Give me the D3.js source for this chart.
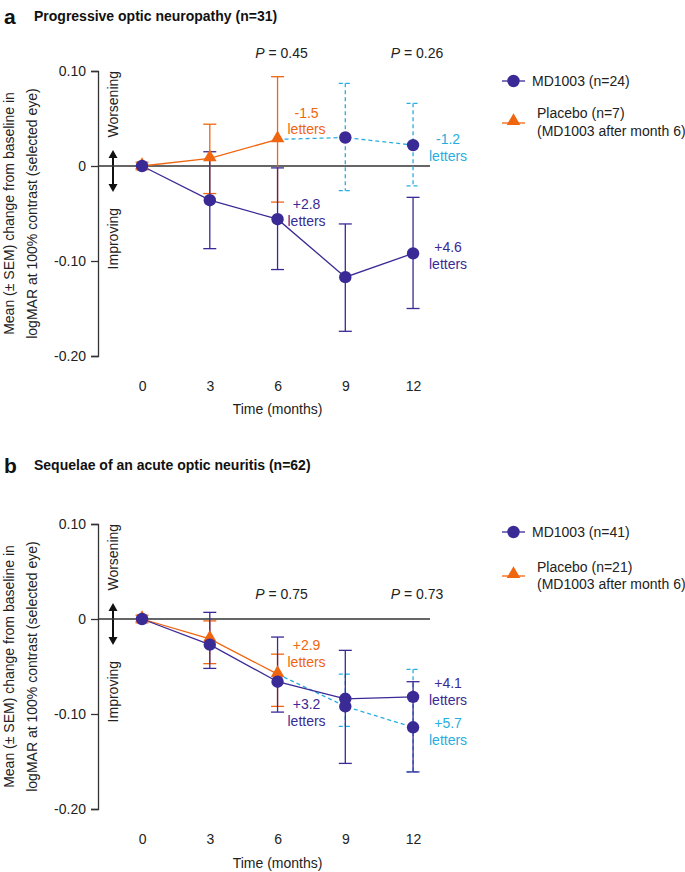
<!DOCTYPE html>
<html><head><meta charset="utf-8">
<script src="https://cdn.jsdelivr.net/npm/d3@7/dist/d3.min.js"></script>
<style>
body{margin:0;background:#fff;}
svg text{font-family:"Liberation Sans",Arial,sans-serif;}
</style></head>
<body><svg id="chart" width="685" height="872"></svg>
<script>
// ---------- data ----------
const months = [0, 3, 6, 9, 12];
const placeboMonths = [0, 3, 6];
const switchMonths = [9, 12];
const yTicks = [0.10, 0, -0.10, -0.20];
const yTickLabels = ["0.10", "0", "-0.10", "-0.20"];

// Panel a: Progressive optic neuropathy
const aMdMean = [0, -0.036, -0.056, -0.117, -0.092];
const aMdHi   = [0, 0.015, -0.002, -0.061, -0.033];
const aMdLo   = [0, -0.087, -0.109, -0.174, -0.150];
const aPlMean = [0, 0.008, 0.028];
const aPlHi   = [0.004, 0.044, 0.094];
const aPlLo   = [-0.004, -0.029, -0.038];
const aSwMean = [0.030, 0.022];
const aSwHi   = [0.087, 0.066];
const aSwLo   = [-0.026, -0.021];
const aPvals  = ["0.45", "0.26"];
const aLetters = ["-1.5", "+2.8", "-1.2", "+4.6"];

// Panel b: Sequelae of an acute optic neuritis
const bMdMean = [0, -0.027, -0.066, -0.084, -0.082];
const bMdHi   = [0, 0.007, -0.019, -0.033, -0.066];
const bMdLo   = [0, -0.052, -0.098, -0.152, -0.161];
const bPlMean = [0, -0.021, -0.058];
const bPlHi   = [0.004, -0.002, -0.037];
const bPlLo   = [-0.004, -0.047, -0.092];
const bSwMean = [-0.092, -0.114];
const bSwHi   = [-0.058, -0.053];
const bSwLo   = [-0.113, -0.161];
const bPvals  = ["0.75", "0.73"];
const bLetters = ["+2.9", "+3.2", "+4.1", "+5.7"];

const panels = [
  {letter: "a", title: "Progressive optic neuropathy (n=31)", mdN: "MD1003 (n=24)", plN: "Placebo (n=7)",
   md: [aMdMean, aMdHi, aMdLo], pl: [aPlMean, aPlHi, aPlLo], sw: [aSwMean, aSwHi, aSwLo],
   pv: aPvals, lt: aLetters},
  {letter: "b", title: "Sequelae of an acute optic neuritis (n=62)", mdN: "MD1003 (n=41)", plN: "Placebo (n=21)",
   md: [bMdMean, bMdHi, bMdLo], pl: [bPlMean, bPlHi, bPlLo], sw: [bSwMean, bSwHi, bSwLo],
   pv: bPvals, lt: bLetters}
];

// ---------- layout ----------
const PURPLE = "#3a2a95", ORANGE = "#f0650f", CYAN = "#27aee0", AX = "#333";
const layouts = [
  {titleY: 16, yTop: 71, yBot: 356, tickY: 386, xlabY: 409, pvY: 0.119,
   legMd: 81, legPl: 123, legT1: 113, legT2: 131,
   notes: [[6, 0.0558, ORANGE], [6, -0.040, PURPLE], [12, 0.0284, CYAN], [12, -0.0853, PURPLE]]},
  {titleY: 465, yTop: 524, yBot: 809, tickY: 839, xlabY: 863, pvY: 0.026,
   legMd: 532, legPl: 576, legT1: 567, legT2: 584,
   notes: [[6, -0.0274, ORANGE], [6, -0.0895, PURPLE], [12, -0.0674, PURPLE], [12, -0.1095, CYAN]]}
];

const svg = d3.select("#chart");
const x = d3.scaleLinear().domain([-1.95, 12.75]).range([98, 430]);
const cap = 6.5;
const tri = d3.symbol().type(d3.symbolTriangle).size(80)();

panels.forEach((p, i) => {
  const L = layouts[i];
  const y = d3.scaleLinear().domain([-0.20, 0.10]).range([L.yBot, L.yTop]);
  const g = svg.append("g");

  // titles
  g.append("text").attr("x", 4).attr("y", L.titleY).attr("dominant-baseline", "central")
    .attr("font-size", 21).attr("font-weight", "bold").attr("fill", "#111").text(p.letter);
  g.append("text").attr("x", 34).attr("y", L.titleY).attr("dominant-baseline", "central")
    .attr("font-size", 14).attr("font-weight", "bold").attr("fill", "#111").text(p.title);

  // y axis
  const yAxis = d3.axisLeft(y).tickValues(yTicks).tickSize(7).tickPadding(5)
    .tickFormat((d, k) => yTickLabels[k]);
  const ya = g.append("g").attr("transform", `translate(${x(-1.95)},0)`).call(yAxis);
  ya.select(".domain").attr("stroke", AX).attr("stroke-width", 1.3);
  ya.selectAll(".tick line").attr("stroke", AX).attr("stroke-width", 1.3);
  ya.selectAll(".tick text").attr("font-size", 14).attr("fill", "#222")
    .attr("font-family", "Liberation Sans, Arial, sans-serif");

  // x tick labels (no axis line)
  const xAxis = d3.axisBottom(x).tickValues(months).tickSize(0).tickPadding(0).tickFormat(d3.format("d"));
  const xa = g.append("g").attr("transform", `translate(0,${L.tickY})`).call(xAxis);
  xa.select(".domain").remove();
  xa.selectAll(".tick text").attr("font-size", 14).attr("fill", "#222").attr("dy", null)
    .attr("dominant-baseline", "central").attr("font-family", "Liberation Sans, Arial, sans-serif");
  g.append("text").attr("x", x(6)).attr("y", L.xlabY).attr("text-anchor", "middle")
    .attr("dominant-baseline", "central").attr("font-size", 14).attr("fill", "#222").text("Time (months)");

  // y label
  const yc = (L.yTop + L.yBot) / 2;
  [["Mean (± SEM) change from baseline in", 9], ["logMAR at 100% contrast (selected eye)", 32]].forEach(([t, xx]) => {
    g.append("text").attr("transform", `translate(${xx},${yc}) rotate(-90)`).attr("text-anchor", "middle")
      .attr("dominant-baseline", "central").attr("font-size", 14).attr("fill", "#222").text(t);
  });

  // worsening / improving
  const xw = 113;
  g.append("text").attr("transform", `translate(${xw},${(y(0.10) + y(0.03)) / 2}) rotate(-90)`)
    .attr("text-anchor", "middle").attr("dominant-baseline", "central").attr("font-size", 14).attr("fill", "#222").text("Worsening");
  g.append("text").attr("transform", `translate(${xw},${(y(-0.045) + y(-0.108)) / 2}) rotate(-90)`)
    .attr("text-anchor", "middle").attr("dominant-baseline", "central").attr("font-size", 14).attr("fill", "#222").text("Improving");
  const a1 = y(0) - 16, a2 = y(0) + 26;
  g.append("line").attr("x1", xw).attr("x2", xw).attr("y1", a1 + 6).attr("y2", a2 - 6)
    .attr("stroke", "#111").attr("stroke-width", 2);
  g.append("path").attr("d", `M${xw},${a1} L${xw - 4.5},${a1 + 8} L${xw + 4.5},${a1 + 8} Z`).attr("fill", "#111");
  g.append("path").attr("d", `M${xw},${a2} L${xw - 4.5},${a2 - 8} L${xw + 4.5},${a2 - 8} Z`).attr("fill", "#111");

  // zero line
  g.append("line").attr("x1", x(-1.95)).attr("x2", x(12.75)).attr("y1", y(0)).attr("y2", y(0))
    .attr("stroke", AX).attr("stroke-width", 1.3);

  // P values
  [6, 12].forEach((m, k) => {
    const t = g.append("text").attr("x", x(m) + 4).attr("y", y(L.pvY)).attr("text-anchor", "middle")
      .attr("dominant-baseline", "central").attr("font-size", 14).attr("fill", "#222");
    t.append("tspan").attr("font-style", "italic").text("P");
    t.append("tspan").text(" = " + p.pv[k]);
  });

  const line = d3.line().x(d => x(d[0])).y(d => y(d[1]));
  function errBars(ms, hi, lo, color, dash) {
    ms.forEach((m, k) => {
      if (hi[k] === lo[k]) return;
      const eg = g.append("g").attr("stroke", color).attr("stroke-width", 1.3).attr("stroke-dasharray", dash);
      eg.append("line").attr("x1", x(m)).attr("x2", x(m)).attr("y1", y(hi[k])).attr("y2", y(lo[k]));
      eg.append("line").attr("x1", x(m) - cap).attr("x2", x(m) + cap).attr("y1", y(hi[k])).attr("y2", y(hi[k])).attr("stroke-dasharray", null);
      eg.append("line").attr("x1", x(m) - cap).attr("x2", x(m) + cap).attr("y1", y(lo[k])).attr("y2", y(lo[k])).attr("stroke-dasharray", null);
    });
  }

  // switched (placebo -> MD1003) series
  const [swM, swH, swL] = p.sw;
  const plLast = [placeboMonths[placeboMonths.length - 1], p.pl[0][p.pl[0].length - 1]];
  errBars(switchMonths, swH, swL, CYAN, "4,3");
  g.append("path").attr("d", line([plLast].concat(switchMonths.map((m, k) => [m, swM[k]]))))
    .attr("fill", "none").attr("stroke", CYAN).attr("stroke-width", 1.3).attr("stroke-dasharray", "4,3");

  // placebo series
  const [plM, plH, plL] = p.pl;
  errBars(placeboMonths, plH, plL, ORANGE, null);
  g.append("path").attr("d", line(placeboMonths.map((m, k) => [m, plM[k]])))
    .attr("fill", "none").attr("stroke", ORANGE).attr("stroke-width", 1.3);

  // MD1003 series
  const [mdM, mdH, mdL] = p.md;
  errBars(months, mdH, mdL, PURPLE, null);
  g.append("path").attr("d", line(months.map((m, k) => [m, mdM[k]])))
    .attr("fill", "none").attr("stroke", PURPLE).attr("stroke-width", 1.3);

  // markers
  placeboMonths.forEach((m, k) => {
    g.append("path").attr("d", tri).attr("transform", `translate(${x(m)},${y(plM[k]) - 1})`).attr("fill", ORANGE);
  });
  switchMonths.forEach((m, k) => {
    g.append("circle").attr("cx", x(m)).attr("cy", y(swM[k])).attr("r", 6.2).attr("fill", PURPLE);
  });
  months.forEach((m, k) => {
    g.append("circle").attr("cx", x(m)).attr("cy", y(mdM[k])).attr("r", 6.2).attr("fill", PURPLE);
  });

  // letter annotations
  L.notes.forEach(([m, v, c], k) => {
    const cx = x(m) + (m === 12 ? 35 : 29);
    g.append("text").attr("x", cx).attr("y", y(v)).attr("text-anchor", "middle").attr("dominant-baseline", "central")
      .attr("font-size", 14).attr("fill", c).text(p.lt[k]);
    g.append("text").attr("x", cx).attr("y", y(v) + 16.5).attr("text-anchor", "middle").attr("dominant-baseline", "central")
      .attr("font-size", 14).attr("fill", c).text("letters");
  });

  // legend
  const lx1 = 502, lx2 = 525, lxc = 513.5;
  g.append("line").attr("x1", lx1).attr("x2", lx2).attr("y1", L.legMd).attr("y2", L.legMd).attr("stroke", PURPLE).attr("stroke-width", 1.3);
  g.append("circle").attr("cx", lxc).attr("cy", L.legMd).attr("r", 6.2).attr("fill", PURPLE);
  g.append("text").attr("x", 532).attr("y", L.legMd).attr("dominant-baseline", "central").attr("font-size", 14).attr("fill", "#222").text(p.mdN);
  g.append("line").attr("x1", lx1).attr("x2", lx2).attr("y1", L.legPl).attr("y2", L.legPl).attr("stroke", ORANGE).attr("stroke-width", 1.3);
  g.append("path").attr("d", tri).attr("transform", `translate(${lxc},${L.legPl - 2})`).attr("fill", ORANGE);
  g.append("text").attr("x", 537).attr("y", L.legT1).attr("dominant-baseline", "central").attr("font-size", 14).attr("fill", "#222").text(p.plN);
  g.append("text").attr("x", 537).attr("y", L.legT2).attr("dominant-baseline", "central").attr("font-size", 14).attr("fill", "#222").text("(MD1003 after month 6)");
});
</script></body></html>
